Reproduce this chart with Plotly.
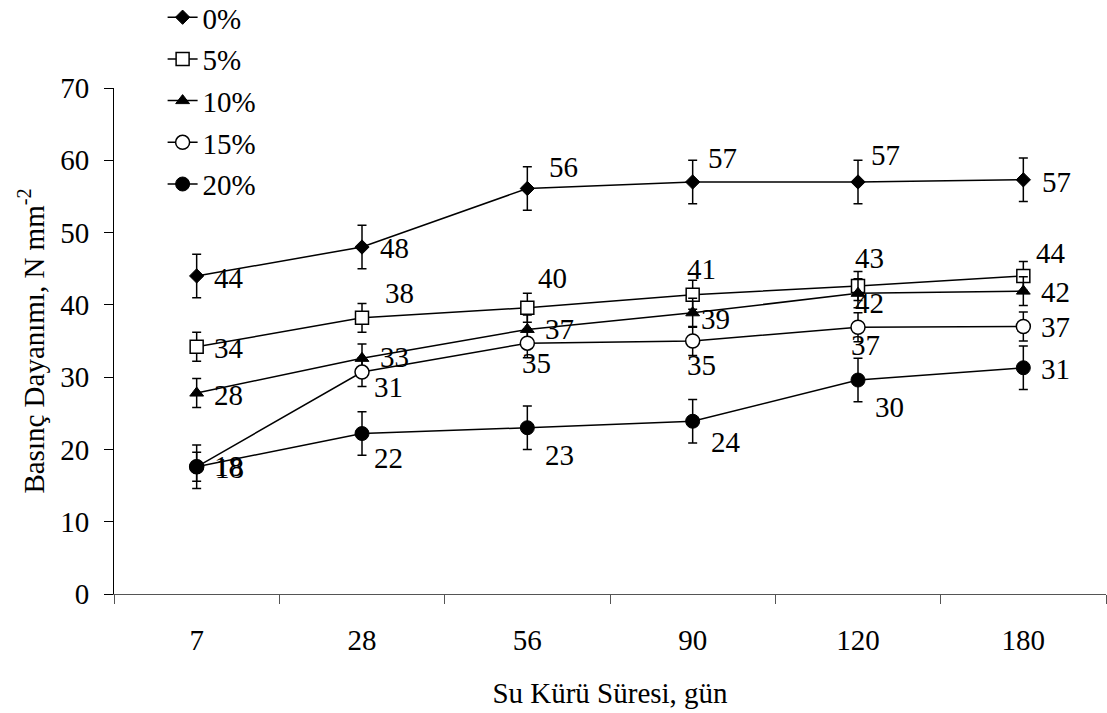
import plotly.graph_objects as go

# Curing time categories (days)
days = ["7", "28", "56", "90", "120", "180"]

# Compressive strength per replacement ratio (N/mm²)
s0 = [44.0, 48.0, 56.1, 57.0, 57.0, 57.3]
s5 = [34.2, 38.2, 39.6, 41.4, 42.6, 44.0]
s10 = [27.8, 32.6, 36.6, 38.9, 41.6, 41.9]
s15 = [17.6, 30.7, 34.7, 35.0, 36.9, 37.0]
s20 = [17.6, 22.2, 23.0, 23.9, 29.6, 31.3]

# Standard deviations
e0 = [3, 3, 3, 3, 3, 3]
e5 = [2, 2, 2, 2, 2, 2]
e10 = [2, 2, 2, 2, 2, 2]
e15 = [2, 2, 2, 2, 2, 2]
e20 = [3, 3, 3, 3, 3, 3]

names = ["0%", "5%", "10%", "15%", "20%"]

FONT = "Liberation Serif"
FS = 29

# category positions on a linear axis
xpos = list(range(len(days)))
bounds = [i - 0.5 for i in range(len(days) + 1)]

styles = [
    dict(symbol="diamond", size=11, color="black", line=dict(color="black", width=1)),
    dict(symbol="square", size=13, color="white", line=dict(color="black", width=1.5)),
    dict(symbol="triangle-up", size=12, color="black", line=dict(color="black", width=1)),
    dict(symbol="circle", size=14, color="white", line=dict(color="black", width=1.5)),
    dict(symbol="circle", size=14, color="black", line=dict(color="black", width=1)),
]

# value-label placement: (anchor, dx, dy) in screen pixels, dy downward
label_pos = [
    [("left", 15, 2), ("left", 16, 1), ("left", 20, -21), ("left", 13, -24), ("left", 11, -27), ("left", 17, 2)],
    [("left", 15, 1), ("left", 21, -25), ("left", 9, -30), ("center", 9, -26), ("center", 11, -28), ("left", 11, -23)],
    [("left", 15, 2), ("left", 16, -1), ("left", 16, 0), ("left", 6, 6), ("center", 11, 10), ("left", 16, 1)],
    [("left", 16, 1), ("left", 10, 15), ("center", 9, 20), ("center", 9, 24), ("center", 7, 18), ("left", 16, 0)],
    [("left", 15, -1), ("left", 10, 24), ("left", 16, 27), ("left", 16, 21), ("left", 15, 27), ("left", 16, 1)],
]

series = [s0, s5, s10, s15, s20]
errors = [e0, e5, e10, e15, e20]

fig = go.Figure()
for nm, ys, es, st in zip(names, series, errors, styles):
    fig.add_trace(go.Scatter(
        x=xpos, y=ys, name=nm, mode="lines+markers",
        line=dict(color="black", width=1.5),
        marker=st,
        legendgroup=nm,
        error_y=dict(type="data", array=es, visible=True, color="black",
                     thickness=1.5, width=4.5),
    ))

annotations = []
for ys, pos in zip(series, label_pos):
    for xi, v, (anc, dx, dy) in zip(xpos, ys, pos):
        annotations.append(dict(
            x=xi, y=v, xref="x", yref="y", text=f"{v:.0f}", showarrow=False,
            xanchor=anc, yanchor="middle", xshift=dx, yshift=-dy,
            font=dict(family=FONT, size=FS, color="black"),
        ))

fig.update_layout(
    width=1107, height=713,
    margin=dict(l=114, r=1, t=88, b=119, autoexpand=False),
    paper_bgcolor="white", plot_bgcolor="white",
    font=dict(family=FONT, size=FS, color="black"),
    showlegend=True,
    legend=dict(
        x=0.049, y=1.19, xanchor="left", yanchor="top",
        bgcolor="rgba(0,0,0,0)", tracegroupgap=1,
        font=dict(family=FONT, size=FS, color="black"),
    ),
    annotations=annotations,
)

fig.update_xaxes(
    range=[-0.5, 5.5], tickmode="array", tickvals=xpos, ticktext=days,
    ticks="", showline=True, linecolor="#555555", linewidth=1,
    minor=dict(tickmode="array", tickvals=bounds, ticks="outside", ticklen=9,
               tickcolor="#555555", showgrid=False),
    showgrid=False, zeroline=False, ticklabelstandoff=20,
    title=dict(text="Su Kürü Süresi, gün", standoff=27,
               font=dict(family=FONT, size=FS)),
)
fig.update_yaxes(
    range=[0, 70], dtick=10, ticks="outside", ticklen=9, tickcolor="black",
    showline=True, linecolor="black", linewidth=1, showgrid=False,
    zeroline=False, ticklabelstandoff=9,
    title=dict(text="Basınç Dayanımı, N mm<sup>-2</sup>", standoff=7,
               font=dict(family=FONT, size=FS)),
)

fig.write_html("out.html")
